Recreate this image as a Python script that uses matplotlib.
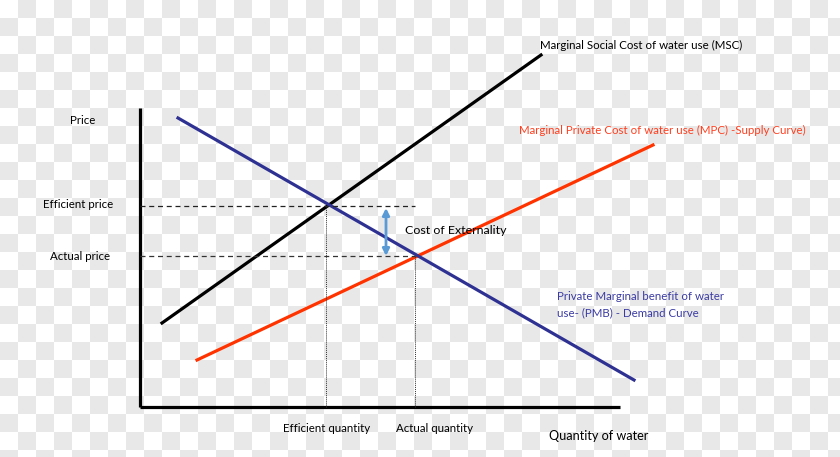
import matplotlib
matplotlib.use("Agg")
import matplotlib.pyplot as plt
import numpy as np

plt.rcParams['font.family'] = ['Lato', 'DejaVu Sans']

# Schematic data (quantity, price) in chart units, origin at axes corner
msc_q = [22, 401]
msc_p = [84, 352]
mpc_q = [57, 513]
mpc_p = [47, 262]
pmb_q = [38, 494]
pmb_p = [289, 27]
efficient_q = 186
actual_q = 275
efficient_p = 201
actual_p = 151
dash_end_q = 275
axis_q_max = 480
axis_p_max = 299

W, H = 840, 457
fig = plt.figure(figsize=(W / 100, H / 100), dpi=100)

# checkerboard background (transparency pattern)
bg = fig.add_axes([0, 0, 1, 1])
s = 18
nx, ny = W // s + 2, H // s + 2
chk = (np.add.outer(np.arange(ny), np.arange(nx)) % 2).astype(float)
bg.imshow(chk, cmap=matplotlib.colors.ListedColormap(['#ffffff', '#e8e8e8']),
          extent=[0, nx * s, ny * s, 0], interpolation='nearest', aspect='auto')
bg.set_xlim(0, W)
bg.set_ylim(H, 0)
bg.axis('off')

ax = fig.add_axes([0, 0, 1, 1], facecolor='none')
ax.set_xlim(-140, 700)
ax.set_ylim(-50, 407)
ax.axis('off')

# axes lines
ax.plot([0, 0], [0, axis_p_max], color='black', lw=2.3, solid_capstyle='butt')
ax.plot([0, axis_q_max], [0, 0], color='black', lw=2.3, solid_capstyle='butt')

# curves
ax.plot(msc_q, msc_p, color='black', lw=2.3)
ax.plot(mpc_q, mpc_p, color='#ff3300', lw=2.3)
ax.plot(pmb_q, pmb_p, color='#2e3192', lw=2.3)

# dashed price lines
ax.plot([0, dash_end_q], [efficient_p, efficient_p], color='#222222', lw=0.9, ls=(0, (4, 3)))
ax.plot([0, dash_end_q], [actual_p, actual_p], color='#333333', lw=0.9, ls=(0, (4, 3)))
# dotted quantity lines
ax.plot([efficient_q, efficient_q], [0, efficient_p], color='#333333', lw=0.7, ls=(0, (1, 1)))
ax.plot([actual_q, actual_q], [0, actual_p], color='#333333', lw=0.7, ls=(0, (1, 1)))

# cost of externality arrow
ax.annotate('', xy=(246, efficient_p - 2), xytext=(246, actual_p),
            arrowprops=dict(arrowstyle='<|-|>', color='#5b9bd5', lw=2,
                            mutation_scale=10, shrinkA=0, shrinkB=0))

fs = 8.3
ax.text(-57, 287, 'Price', fontsize=fs, ha='center', va='center', color='black')
ax.text(-62, 202, 'Efficient price', fontsize=fs, ha='center', va='center', color='black')
ax.text(-60, 151, 'Actual price', fontsize=fs, ha='center', va='center', color='black')
ax.text(187, -22, 'Efficient quantity', fontsize=fs, ha='center', va='center', color='black')
ax.text(294, -22, 'Actual quantity', fontsize=fs, ha='center', va='center', color='black')
ax.text(459, -29, 'Quantity of water', fontsize=9.1, ha='center', va='center', color='black')
ax.text(316, 177, 'Cost of Externality', fontsize=8.9, ha='center', va='center', color='black')
ax.text(400, 362, 'Marginal Social Cost of water use (MSC)', fontsize=fs,
        ha='left', va='center', color='black')
ax.text(379, 277, 'Marginal Private Cost of water use (MPC) -Supply Curve)', fontsize=fs,
        ha='left', va='center', color='#ff3f1f')
ax.text(417, 110, 'Private Marginal benefit of water', fontsize=fs,
        ha='left', va='center', color='#3b3ba3')
ax.text(417, 94, 'use- (PMB) - Demand Curve', fontsize=fs,
        ha='left', va='center', color='#3b3ba3')

fig.savefig('out.png', dpi=100)
